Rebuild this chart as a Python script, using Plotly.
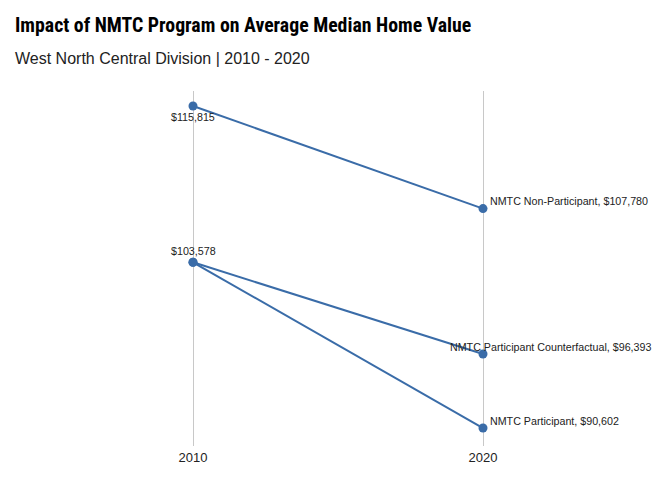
import plotly.graph_objects as go

years = ["2010", "2020"]
groups = ["NMTC Non-Participant", "NMTC Participant Counterfactual", "NMTC Participant"]
values_2010 = [115815, 103578, 103578]
values_2020 = [107780, 96393, 90602]

color = "#3a6ca8"
font = "Liberation Sans, Arial, sans-serif"
narrow = "Roboto Condensed, Liberation Sans, sans-serif"

fig = go.Figure()
for g, v0, v1 in zip(groups, values_2010, values_2020):
    fig.add_trace(go.Scatter(
        x=[0, 1], y=[v0, v1], mode="lines+markers",
        line=dict(color=color, width=2), marker=dict(color=color, size=9),
        name=g, showlegend=False, hoverinfo="skip"))

# 2010 labels
fig.add_annotation(x=0, y=values_2010[0], text="${:,}".format(values_2010[0]),
                   showarrow=False, yshift=-11, font=dict(size=10.7, color="#222", family=font))
fig.add_annotation(x=0, y=values_2010[1], text="${:,}".format(values_2010[1]),
                   showarrow=False, yshift=11, font=dict(size=10.7, color="#222", family=font))

# 2020 labels
shifts = [(5, 8), (-35, 7), (5, 7)]
for g, v, (xs, ys) in zip(groups, values_2020, shifts):
    fig.add_annotation(x=1, y=v, text="{}, ${:,}".format(g, v), showarrow=False,
                       xanchor="left", xshift=xs, yshift=ys,
                       font=dict(size=10.7, color="#222", family=font))

W, H = 664, 472
top, bottom, left, right = 83, 34, 11, 15
ph = H - top - bottom
pw = W - left - right

fig.add_annotation(text="<b>Impact of NMTC Program on Average Median Home Value</b>",
                   xref="paper", yref="paper", x=(5 - left) / pw, y=1 + (top - 17) / ph,
                   xanchor="left", yanchor="middle", showarrow=False,
                   font=dict(size=19.8, color="black", family=narrow))
fig.add_annotation(text="West North Central Division | 2010 - 2020",
                   xref="paper", yref="paper", x=(5 - left) / pw, y=1 + (top - 51) / ph,
                   xanchor="left", yanchor="middle", showarrow=False,
                   font=dict(size=16, color="#222", family=font))

fig.update_layout(
    width=W, height=H,
    margin=dict(l=left, r=right, t=top, b=bottom, autoexpand=False),
    paper_bgcolor="white", plot_bgcolor="white",
    font=dict(family=font, color="#222"),
)
fig.update_xaxes(range=[-0.6, 1.6], tickvals=[0, 1], ticktext=years, showgrid=True,
                 gridcolor="#c8c8c8", gridwidth=1, zeroline=False, showline=False,
                 ticks="", ticklabelstandoff=2, tickfont=dict(size=13, color="#222", family=font))
fig.update_yaxes(range=[89193, 116990], showgrid=False, zeroline=False,
                 showticklabels=False, showline=False, ticks="")

fig.write_html("out.html")
